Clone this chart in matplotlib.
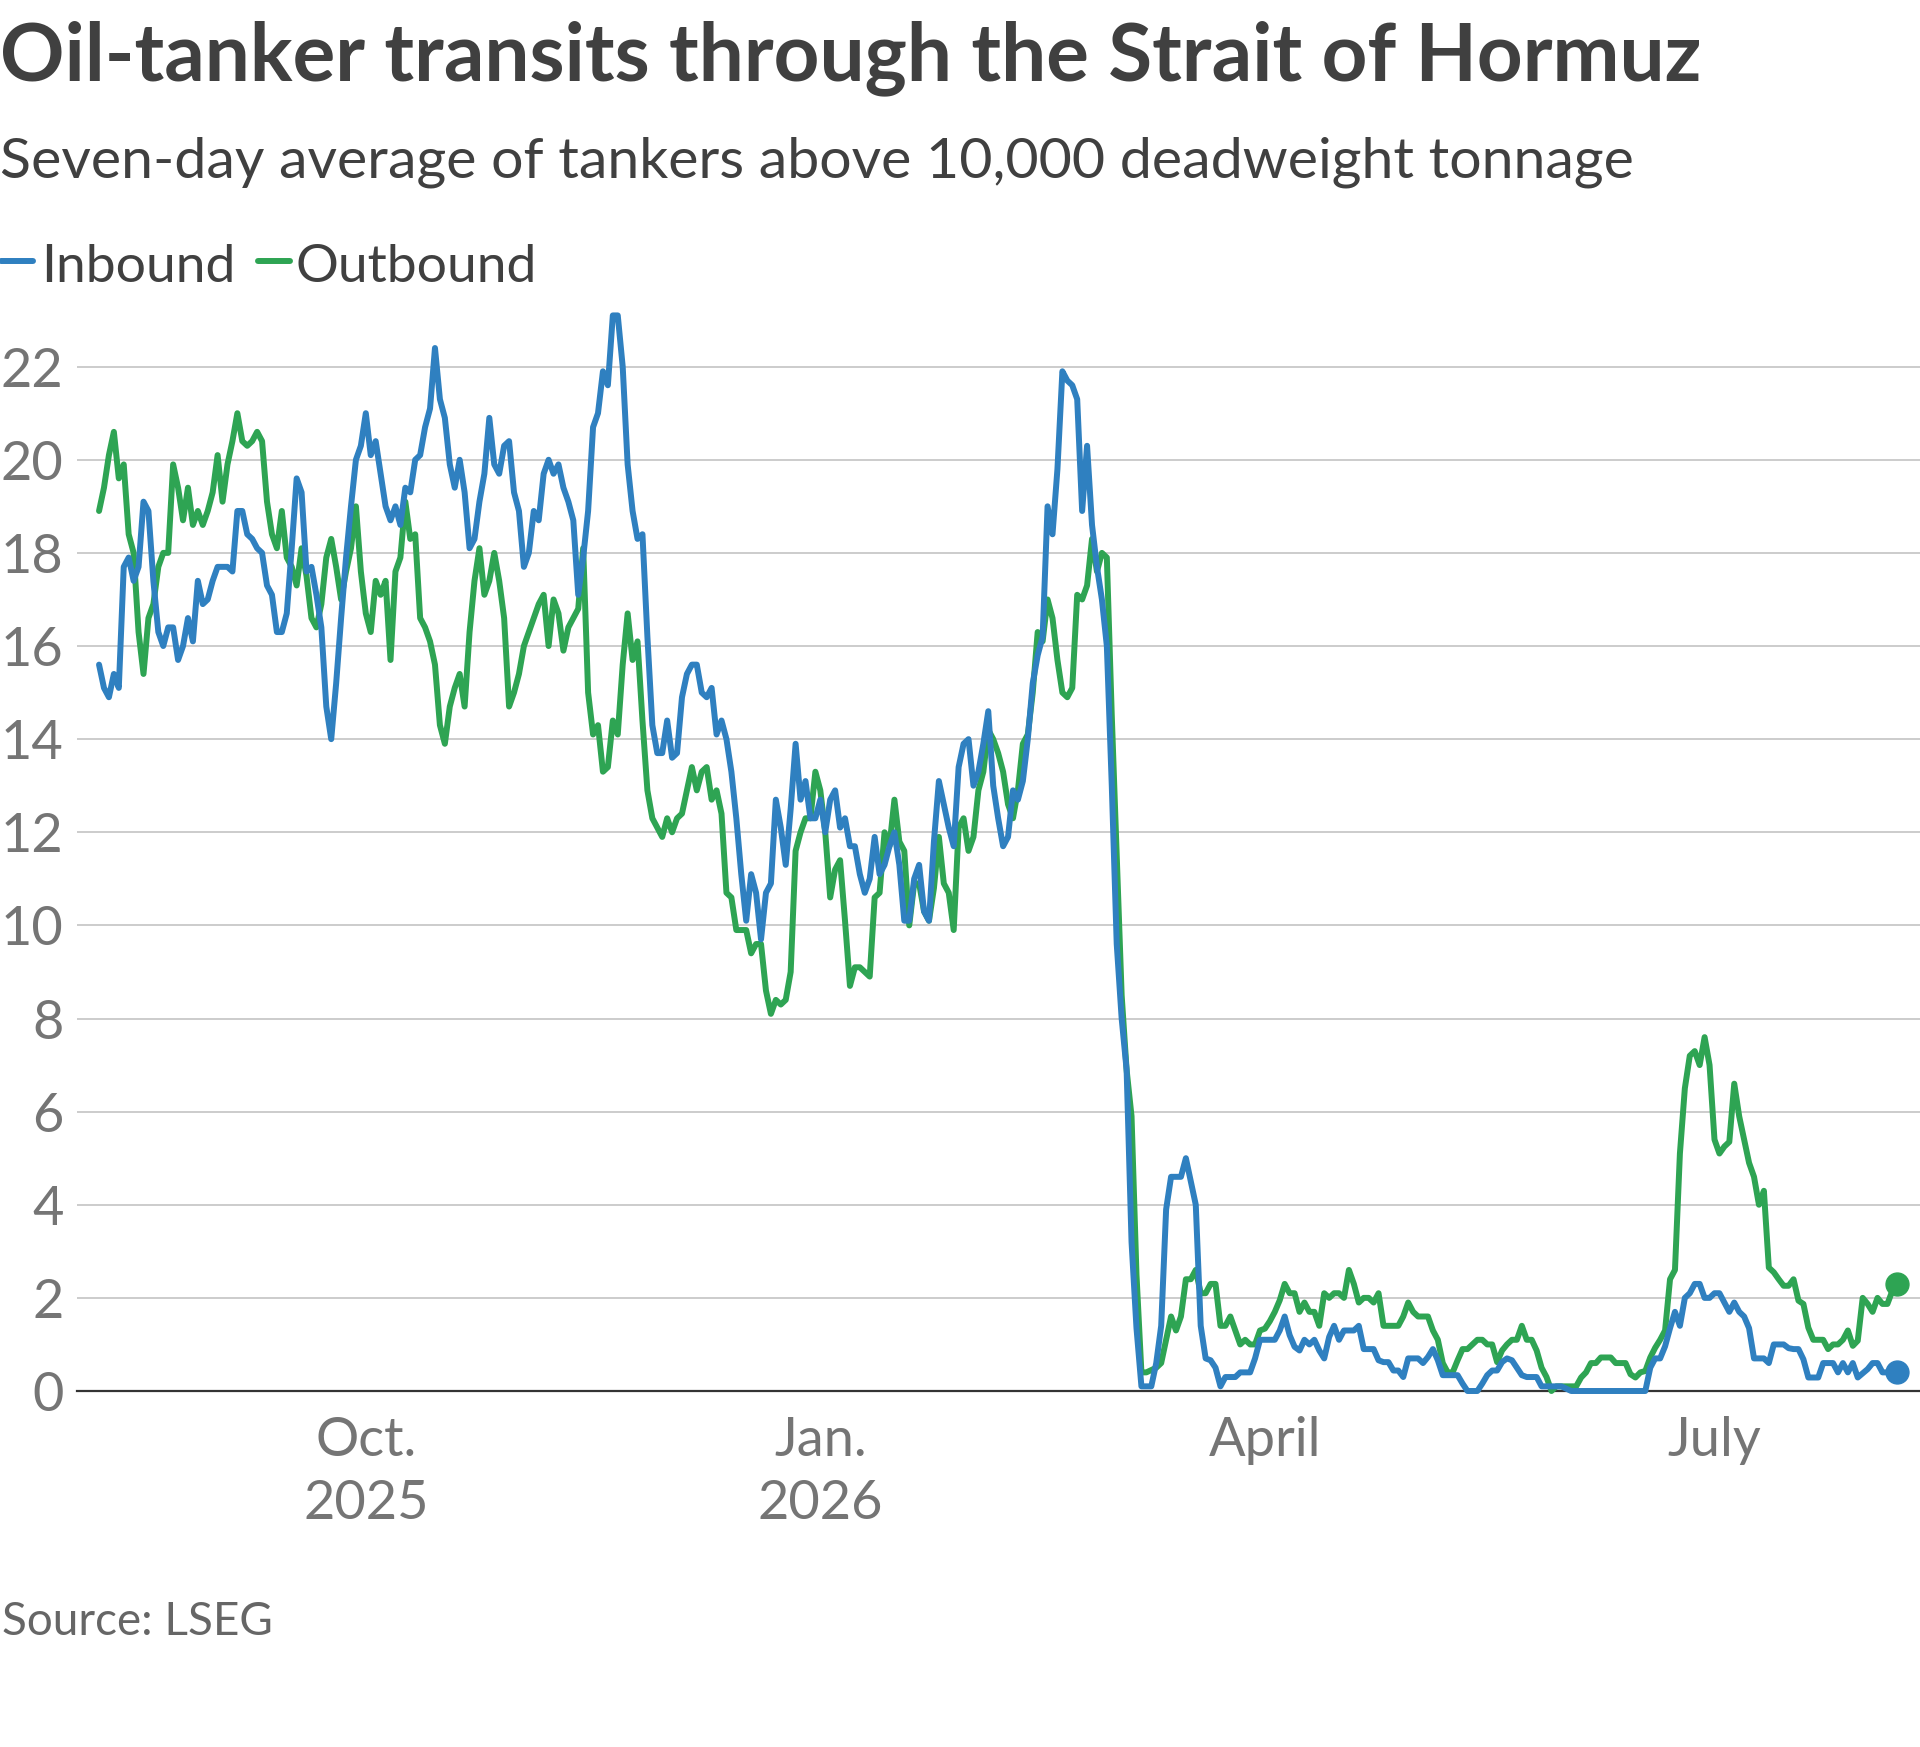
import matplotlib
matplotlib.use('Agg')
import matplotlib.pyplot as plt
import matplotlib.dates as mdates
from matplotlib.lines import Line2D
import pandas as pd

# daily seven-day averages, first day 2025-08-08
start_date = '2025-08-08'

inbound = [
    15.6, 15.1, 14.9, 15.4, 15.1, 17.7, 17.9, 17.4, 17.7, 19.1,
    18.9, 17.4, 16.3, 16.0, 16.4, 16.4, 15.7, 16.0, 16.6, 16.1,
    17.4, 16.9, 17.0, 17.4, 17.7, 17.7, 17.7, 17.6, 18.9, 18.9,
    18.4, 18.3, 18.1, 18.0, 17.3, 17.1, 16.3, 16.3, 16.7, 18.1,
    19.6, 19.3, 17.6, 17.7, 17.1, 16.4, 14.7, 14.0, 15.2, 16.6,
    17.9, 19.0, 20.0, 20.3, 21.0, 20.1, 20.4, 19.7, 19.0, 18.7,
    19.0, 18.6, 19.4, 19.3, 20.0, 20.1, 20.7, 21.1, 22.4, 21.3,
    20.9, 19.9, 19.4, 20.0, 19.3, 18.1, 18.3, 19.1, 19.7, 20.9,
    19.9, 19.7, 20.3, 20.4, 19.3, 18.9, 17.7, 18.0, 18.9, 18.7,
    19.7, 20.0, 19.7, 19.9, 19.4, 19.1, 18.7, 17.1, 17.9, 18.9,
    20.7, 21.0, 21.9, 21.6, 23.1, 23.1, 22.0, 19.9, 18.9, 18.3,
    18.4, 16.2, 14.3, 13.7, 13.7, 14.4, 13.6, 13.7, 14.9, 15.4,
    15.6, 15.6, 15.0, 14.9, 15.1, 14.1, 14.4, 14.0, 13.3, 12.3,
    11.1, 10.1, 11.1, 10.7, 9.7, 10.7, 10.9, 12.7, 12.1, 11.3,
    12.5, 13.9, 12.7, 13.1, 12.3, 12.3, 12.7, 12.0, 12.7, 12.9,
    12.1, 12.3, 11.7, 11.7, 11.1, 10.7, 11.0, 11.9, 11.1, 11.3,
    11.7, 12.0, 11.3, 10.1, 10.1, 11.0, 11.3, 10.3, 10.1, 11.8,
    13.1, 12.6, 12.1, 11.7, 13.4, 13.9, 14.0, 13.0, 13.3, 13.9,
    14.6, 13.0, 12.3, 11.7, 11.9, 12.9, 12.7, 13.1, 14.0, 15.2,
    15.8, 16.2, 19.0, 18.4, 19.8, 21.9, 21.7, 21.6, 21.3, 18.9,
    20.3, 18.6, 17.7, 17.0, 16.0, 13.0, 9.6, 8.0, 6.9, 3.2,
    1.35, 0.1, 0.1, 0.1, 0.6, 1.4, 3.9, 4.6, 4.6, 4.6,
    5.0, 4.5, 4.0, 1.4, 0.7, 0.66, 0.5, 0.1, 0.3, 0.3,
    0.3, 0.4, 0.4, 0.4, 0.7, 1.1, 1.1, 1.1, 1.1, 1.3,
    1.6, 1.2, 0.95, 0.87, 1.1, 1.0, 1.1, 0.87, 0.7, 1.16,
    1.4, 1.1, 1.3, 1.3, 1.3, 1.4, 0.9, 0.9, 0.9, 0.66,
    0.62, 0.62, 0.44, 0.44, 0.3, 0.7, 0.7, 0.7, 0.6, 0.73,
    0.9, 0.66, 0.34, 0.34, 0.34, 0.34, 0.16, 0.0, 0.0, 0.0,
    0.16, 0.34, 0.44, 0.44, 0.62, 0.7, 0.66, 0.5, 0.34, 0.3,
    0.3, 0.3, 0.1, 0.1, 0.1, 0.1, 0.1, 0.05, 0.0, 0.0,
    0.0, 0.0, 0.0, 0.0, 0.0, 0.0, 0.0, 0.0, 0.0, 0.0,
    0.0, 0.0, 0.0, 0.0, 0.5, 0.7, 0.7, 0.96, 1.35, 1.7,
    1.4, 2.0, 2.1, 2.3, 2.3, 2.0, 2.0, 2.1, 2.1, 1.9,
    1.7, 1.9, 1.7, 1.6, 1.35, 0.7, 0.7, 0.7, 0.6, 1.0,
    1.0, 1.0, 0.92, 0.9, 0.9, 0.68, 0.29, 0.29, 0.29, 0.6,
    0.6, 0.6, 0.4, 0.6, 0.4, 0.6, 0.29, 0.38, 0.47, 0.6,
    0.6, 0.4, 0.4, 0.43, 0.4,
]

outbound = [
    18.9, 19.4, 20.1, 20.6, 19.6, 19.9, 18.4, 18.0, 16.3, 15.4,
    16.6, 16.9, 17.7, 18.0, 18.0, 19.9, 19.4, 18.7, 19.4, 18.6,
    18.9, 18.6, 18.9, 19.3, 20.1, 19.1, 19.9, 20.4, 21.0, 20.4,
    20.3, 20.4, 20.6, 20.4, 19.1, 18.4, 18.1, 18.9, 17.9, 17.7,
    17.3, 18.1, 17.5, 16.6, 16.4, 16.9, 17.9, 18.3, 17.7, 17.0,
    17.6, 18.1, 19.0, 17.6, 16.7, 16.3, 17.4, 17.1, 17.4, 15.7,
    17.6, 17.9, 19.1, 18.3, 18.4, 16.6, 16.4, 16.1, 15.6, 14.3,
    13.9, 14.7, 15.1, 15.4, 14.7, 16.3, 17.4, 18.1, 17.1, 17.4,
    18.0, 17.4, 16.6, 14.7, 15.0, 15.4, 16.0, 16.3, 16.6, 16.9,
    17.1, 16.0, 17.0, 16.7, 15.9, 16.4, 16.6, 16.8, 18.1, 15.0,
    14.1, 14.3, 13.3, 13.4, 14.4, 14.1, 15.6, 16.7, 15.7, 16.1,
    14.4, 12.9, 12.3, 12.1, 11.9, 12.3, 12.0, 12.3, 12.4, 12.9,
    13.4, 12.9, 13.3, 13.4, 12.7, 12.9, 12.4, 10.7, 10.6, 9.9,
    9.9, 9.9, 9.4, 9.6, 9.6, 8.6, 8.1, 8.4, 8.3, 8.4,
    9.0, 11.6, 12.0, 12.3, 12.3, 13.3, 12.9, 12.0, 10.6, 11.2,
    11.4, 10.1, 8.7, 9.1, 9.1, 9.0, 8.9, 10.6, 10.7, 12.0,
    11.7, 12.7, 11.8, 11.6, 10.0, 10.9, 10.9, 10.3, 10.1, 10.8,
    11.9, 10.9, 10.7, 9.9, 12.1, 12.3, 11.6, 11.9, 12.9, 13.3,
    14.2, 14.0, 13.7, 13.3, 12.6, 12.3, 12.9, 13.9, 14.1, 15.0,
    16.3, 16.1, 17.0, 16.6, 15.7, 15.0, 14.9, 15.1, 17.1, 17.0,
    17.3, 18.3, 17.6, 18.0, 17.9, 14.5, 11.5, 8.5, 6.9, 5.9,
    2.5, 0.4, 0.4, 0.45, 0.5, 0.6, 1.1, 1.6, 1.3, 1.6,
    2.4, 2.4, 2.6, 2.1, 2.1, 2.3, 2.3, 1.4, 1.4, 1.6,
    1.3, 1.0, 1.1, 1.0, 1.0, 1.3, 1.34, 1.5, 1.7, 1.95,
    2.3, 2.1, 2.1, 1.7, 1.9, 1.7, 1.7, 1.4, 2.1, 2.0,
    2.1, 2.1, 2.0, 2.6, 2.3, 1.9, 2.0, 2.0, 1.9, 2.1,
    1.4, 1.4, 1.4, 1.4, 1.6, 1.9, 1.7, 1.6, 1.6, 1.6,
    1.3, 1.1, 0.6, 0.4, 0.4, 0.66, 0.9, 0.9, 1.0, 1.1,
    1.1, 1.0, 1.0, 0.62, 0.87, 1.0, 1.1, 1.1, 1.4, 1.1,
    1.1, 0.87, 0.5, 0.3, 0.0, 0.1, 0.1, 0.1, 0.1, 0.1,
    0.29, 0.4, 0.6, 0.6, 0.72, 0.72, 0.72, 0.6, 0.6, 0.6,
    0.36, 0.29, 0.4, 0.43, 0.72, 0.93, 1.1, 1.3, 2.4, 2.6,
    5.1, 6.5, 7.2, 7.3, 7.0, 7.6, 7.0, 5.4, 5.1, 5.25,
    5.35, 6.6, 5.9, 5.4, 4.9, 4.6, 4.0, 4.3, 2.65, 2.55,
    2.4, 2.26, 2.26, 2.4, 1.94, 1.87, 1.36, 1.1, 1.1, 1.1,
    0.9, 1.0, 1.0, 1.1, 1.3, 0.97, 1.08, 2.0, 1.87, 1.7,
    2.0, 1.87, 1.87, 2.15, 2.3,
]

tick_dates = ['2025-10-01', '2026-01-01', '2026-04-01', '2026-07-01']
tick_labels = ['Oct.\n2025', 'Jan.\n2026', 'April', 'July']
y_ticks = [0, 2, 4, 6, 8, 10, 12, 14, 16, 18, 20, 22]

BLUE = '#2f80c0'
GREEN = '#2ea453'
DARK = '#404040'
GREY = '#757575'

plt.rcParams['font.family'] = ['Lato', 'DejaVu Sans']

W, H = 1920, 1747


def fy(px):
    # pixel row counted from the top -> figure fraction
    return 1 - px / H


fig = plt.figure(figsize=(W / 100, H / 100), dpi=100)
ax = fig.add_axes([77.3 / W, fy(1391), 1 - 77.3 / W, fy(296.8) - fy(1391)])

dates_in = pd.date_range(start_date, periods=len(inbound), freq='D')
dates_out = pd.date_range(start_date, periods=len(outbound), freq='D')

ax.plot(dates_out, outbound, color=GREEN, lw=4.3, solid_joinstyle='round',
        solid_capstyle='round', clip_on=False, zorder=3)
ax.plot(dates_in, inbound, color=BLUE, lw=4.3, solid_joinstyle='round',
        solid_capstyle='round', clip_on=False, zorder=4)
ax.plot(dates_out[-1:], outbound[-1:], 'o', ms=16.5, color=GREEN, clip_on=False, zorder=5)
ax.plot(dates_in[-1:], inbound[-1:], 'o', ms=16.5, color=BLUE, clip_on=False, zorder=5)

x0 = pd.Timestamp(start_date)
ax.set_xlim(x0 - pd.Timedelta(days=4.4), x0 + pd.Timedelta(days=368.6))
ax.set_ylim(0, 23.5)

ax.set_yticks(y_ticks)
ax.set_yticklabels([str(v) for v in y_ticks])
ax.set_xticks(mdates.date2num(pd.to_datetime(tick_dates)))
ax.set_xticklabels(tick_labels)
for lbl in ax.get_xticklabels():
    lbl.set_linespacing(1.34)

ax.tick_params(axis='y', length=0, pad=10, labelsize=39, labelcolor=GREY)
ax.tick_params(axis='x', length=0, pad=18, labelsize=39, labelcolor=GREY)
ax.yaxis.grid(True, color='#cccccc', lw=1.4)
ax.set_axisbelow(True)
for side in ['top', 'left', 'right']:
    ax.spines[side].set_visible(False)
ax.spines['bottom'].set_color('#333333')
ax.spines['bottom'].set_linewidth(1.6)

# title block
fig.text(0, fy(80.8), 'Oil-tanker transits through the Strait of Hormuz',
         fontsize=57.5, fontweight='bold', color=DARK, va='baseline')
fig.text(0, fy(177.6), 'Seven-day average of tankers above 10,000 deadweight tonnage',
         fontsize=41.2, color=DARK, va='baseline')

# legend
fig.add_artist(Line2D([0.5 / W, 33 / W], [fy(261), fy(261)], color=BLUE, lw=4.3,
                      solid_capstyle='round', transform=fig.transFigure))
fig.text(41 / W, fy(281.6), 'Inbound', fontsize=38.5, color=DARK, va='baseline')
fig.add_artist(Line2D([258 / W, 290 / W], [fy(261), fy(261)], color=GREEN, lw=4.3,
                      solid_capstyle='round', transform=fig.transFigure))
fig.text(296 / W, fy(281.6), 'Outbound', fontsize=38.5, color=DARK, va='baseline')

fig.text(2 / W, fy(1635), 'Source: LSEG', fontsize=33, color='#666666', va='baseline')

fig.savefig('out.png', dpi=100, facecolor='white')
